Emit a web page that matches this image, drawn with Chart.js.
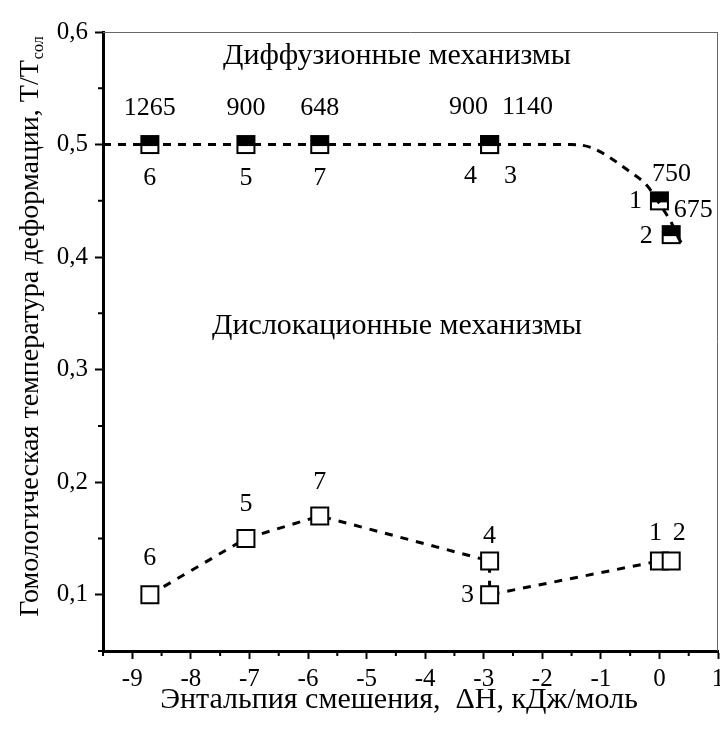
<!DOCTYPE html>
<html>
<head>
<meta charset="utf-8">
<script src="https://cdn.jsdelivr.net/npm/chart.js@4"></script>
<style>
  body { margin: 0; background: #fff; }
  #wrap { width: 720px; height: 729px; }
</style>
</head>
<body>
<div id="wrap"><canvas id="chart" width="720" height="729"></canvas></div>
<script>
// alloy numbers (same order in both series)
const alloyNums = ['6', '5', '7', '4', '3', '1', '2'];

// diffusion mechanisms (upper, half-filled squares)
const diffX = [-8.7, -7.06, -5.8, -2.9, -2.9, 0, 0.2];
const diffY = [0.5, 0.5, 0.5, 0.5, 0.5, 0.45, 0.42];
const diffTemps = ['1265', '900', '648', '900', '1140', '750', '675'];

// dashed guide curve through the upper points
const trendX = [-9.5, -1.5, -1.15, -0.48, -0.22, 0.07, 0.2, 0.37, 0.45];
const trendY = [0.5, 0.5, 0.497, 0.475, 0.464, 0.442, 0.431, 0.413, 0.41];

// dislocation mechanisms (lower, open squares)
const dislX = [-8.7, -7.06, -5.8, -2.9, -2.9, 0, 0.2];
const dislY = [0.10, 0.15, 0.17, 0.13, 0.10, 0.13, 0.13];

// axis ticks
const xMajor = [-9, -8, -7, -6, -5, -4, -3, -2, -1, 0, 1];
const xMinor = [-9.5, -8.5, -7.5, -6.5, -5.5, -4.5, -3.5, -2.5, -1.5, -0.5, 0.5];
const yMajor = [0.1, 0.2, 0.3, 0.4, 0.5, 0.6];
const yMinor = [0.05, 0.15, 0.25, 0.35, 0.45, 0.55];

// label placement (pixel offsets from the point, by index)
const tempOffsets = [[0, -36], [0, -36], [0, -36], [-21, -37], [38, -37], [12, -27], [22, -24]];
const diffNumOffsets = [[0, 34], [0, 34], [0, 34], [-19, 32], [21, 32], [-24, 0], [-25, 2]];
const dislNumOffsets = [[0, -37], [0, -34], [0, -34], [0, -25], [-22, 0], [-4, -28], [8, -28]];

const FONT = "'Liberation Serif', 'Times New Roman', serif";

function makeMarker(half) {
  const c = document.createElement('canvas');
  c.width = 21;
  c.height = 21;
  const g = c.getContext('2d');
  g.fillStyle = '#fff';
  g.fillRect(1, 1, 19, 19);
  if (half) {
    g.fillStyle = '#000';
    g.fillRect(1, 1, 19, 11);
  }
  g.strokeStyle = '#000';
  g.lineWidth = 2;
  g.strokeRect(2, 2, 17, 17);
  return c;
}

const halfMarker = makeMarker(true);
const openMarker = makeMarker(false);

const toPoints = (xs, ys) => xs.map((x, i) => ({ x: x, y: ys[i] }));

const decorPlugin = {
  id: 'decor',
  beforeDatasetsDraw(chart) {
    const { ctx, chartArea, scales } = chart;
    ctx.save();
    // thin top and right frame
    ctx.strokeStyle = '#666';
    ctx.lineWidth = 1;
    ctx.beginPath();
    ctx.moveTo(chartArea.left, chartArea.top + 0.5);
    ctx.lineTo(chartArea.right, chartArea.top + 0.5);
    ctx.moveTo(chartArea.right - 0.5, chartArea.top);
    ctx.lineTo(chartArea.right - 0.5, chartArea.bottom);
    ctx.stroke();
    // minor ticks
    ctx.strokeStyle = '#000';
    ctx.lineWidth = 2;
    ctx.beginPath();
    xMinor.forEach(v => {
      const px = scales.x.getPixelForValue(v);
      ctx.moveTo(px, chartArea.bottom);
      ctx.lineTo(px, chartArea.bottom + 5);
    });
    yMinor.forEach(v => {
      const py = scales.y.getPixelForValue(v);
      ctx.moveTo(chartArea.left, py);
      ctx.lineTo(chartArea.left - 5, py);
    });
    ctx.stroke();
    ctx.restore();
  },
  afterDatasetsDraw(chart) {
    const { ctx, scales } = chart;
    const px = v => scales.x.getPixelForValue(v);
    const py = v => scales.y.getPixelForValue(v);
    ctx.save();
    ctx.fillStyle = '#000';
    ctx.textAlign = 'center';
    ctx.textBaseline = 'middle';
    ctx.font = '26px ' + FONT;

    diffX.forEach((x, i) => {
      ctx.fillText(diffTemps[i], px(x) + tempOffsets[i][0], py(diffY[i]) + tempOffsets[i][1]);
      ctx.fillText(alloyNums[i], px(x) + diffNumOffsets[i][0], py(diffY[i]) + diffNumOffsets[i][1]);
    });
    dislX.forEach((x, i) => {
      ctx.fillText(alloyNums[i], px(x) + dislNumOffsets[i][0], py(dislY[i]) + dislNumOffsets[i][1]);
    });

    ctx.font = '30px ' + FONT;
    ctx.fillText('Диффузионные механизмы', px(-4.48), py(0.579));
    ctx.fillText('Дислокационные механизмы', px(-4.48), py(0.3385));
    ctx.restore();
  },
  afterDraw(chart) {
    const { ctx } = chart;
    ctx.save();
    ctx.fillStyle = '#000';
    // x axis title
    ctx.font = '30px ' + FONT;
    ctx.textAlign = 'center';
    ctx.textBaseline = 'middle';
    ctx.fillText('Энтальпия смешения,  ΔН, кДж/моль', 399, 700);

    // y axis title with subscript
    const main = 'Гомологическая температура деформации, T/T';
    const sub = 'сол';
    ctx.font = '28px ' + FONT;
    const w1 = ctx.measureText(main).width;
    ctx.font = '16px ' + FONT;
    const w2 = ctx.measureText(sub).width;
    ctx.translate(38, 327);
    ctx.rotate(-Math.PI / 2);
    ctx.textAlign = 'left';
    ctx.textBaseline = 'alphabetic';
    const start = -(w1 + w2) / 2;
    ctx.font = '28px ' + FONT;
    ctx.fillText(main, start, 0);
    ctx.font = '16px ' + FONT;
    ctx.fillText(sub, start + w1 + 1, 5);
    ctx.restore();
  }
};

new Chart(document.getElementById('chart'), {
  type: 'scatter',
  data: {
    datasets: [
      {
        label: 'trend',
        data: toPoints(trendX, trendY),
        showLine: true,
        borderColor: '#000',
        borderWidth: 3,
        borderDash: [8, 7],
        cubicInterpolationMode: 'monotone',
        pointRadius: 0,
        order: 0
      },
      {
        label: 'Диффузионные механизмы',
        data: toPoints(diffX, diffY),
        showLine: false,
        pointStyle: halfMarker,
        pointRadius: 10,
        order: 1
      },
      {
        label: 'Дислокационные механизмы',
        data: toPoints(dislX, dislY),
        showLine: true,
        borderColor: '#000',
        borderWidth: 3,
        borderDash: [8, 8],
        tension: 0,
        pointStyle: openMarker,
        pointRadius: 10,
        order: 2
      }
    ]
  },
  options: {
    responsive: false,
    animation: false,
    clip: false,
    layout: { autoPadding: false, padding: { top: 32, right: 2, left: 0, bottom: 0 } },
    plugins: {
      legend: { display: false },
      tooltip: { enabled: false }
    },
    scales: {
      x: {
        type: 'linear',
        min: -9.5,
        max: 1.0,
        afterBuildTicks: s => { s.ticks = xMajor.map(v => ({ value: v })); },
        afterFit: s => { s.height = 78; s.paddingLeft = 0; s.paddingRight = 0; },
        border: { display: true, color: '#000', width: 3 },
        grid: { drawOnChartArea: false, drawTicks: true, tickLength: 8, tickWidth: 2, tickColor: '#000' },
        ticks: {
          color: '#000',
          padding: 5,
          maxRotation: 0,
          autoSkip: false,
          font: { family: FONT, size: 25 },
          callback: v => String(v)
        }
      },
      y: {
        type: 'linear',
        min: 0.05,
        max: 0.6,
        afterBuildTicks: s => { s.ticks = yMajor.map(v => ({ value: v })); },
        afterFit: s => { s.width = 103; s.paddingTop = 0; s.paddingBottom = 0; },
        border: { display: true, color: '#000', width: 3 },
        grid: { drawOnChartArea: false, drawTicks: true, tickLength: 8, tickWidth: 2, tickColor: '#000' },
        ticks: {
          color: '#000',
          padding: 7,
          autoSkip: false,
          font: { family: FONT, size: 25 },
          callback: v => v.toFixed(1).replace('.', ',')
        }
      }
    }
  },
  plugins: [decorPlugin]
});
</script>
</body>
</html>
